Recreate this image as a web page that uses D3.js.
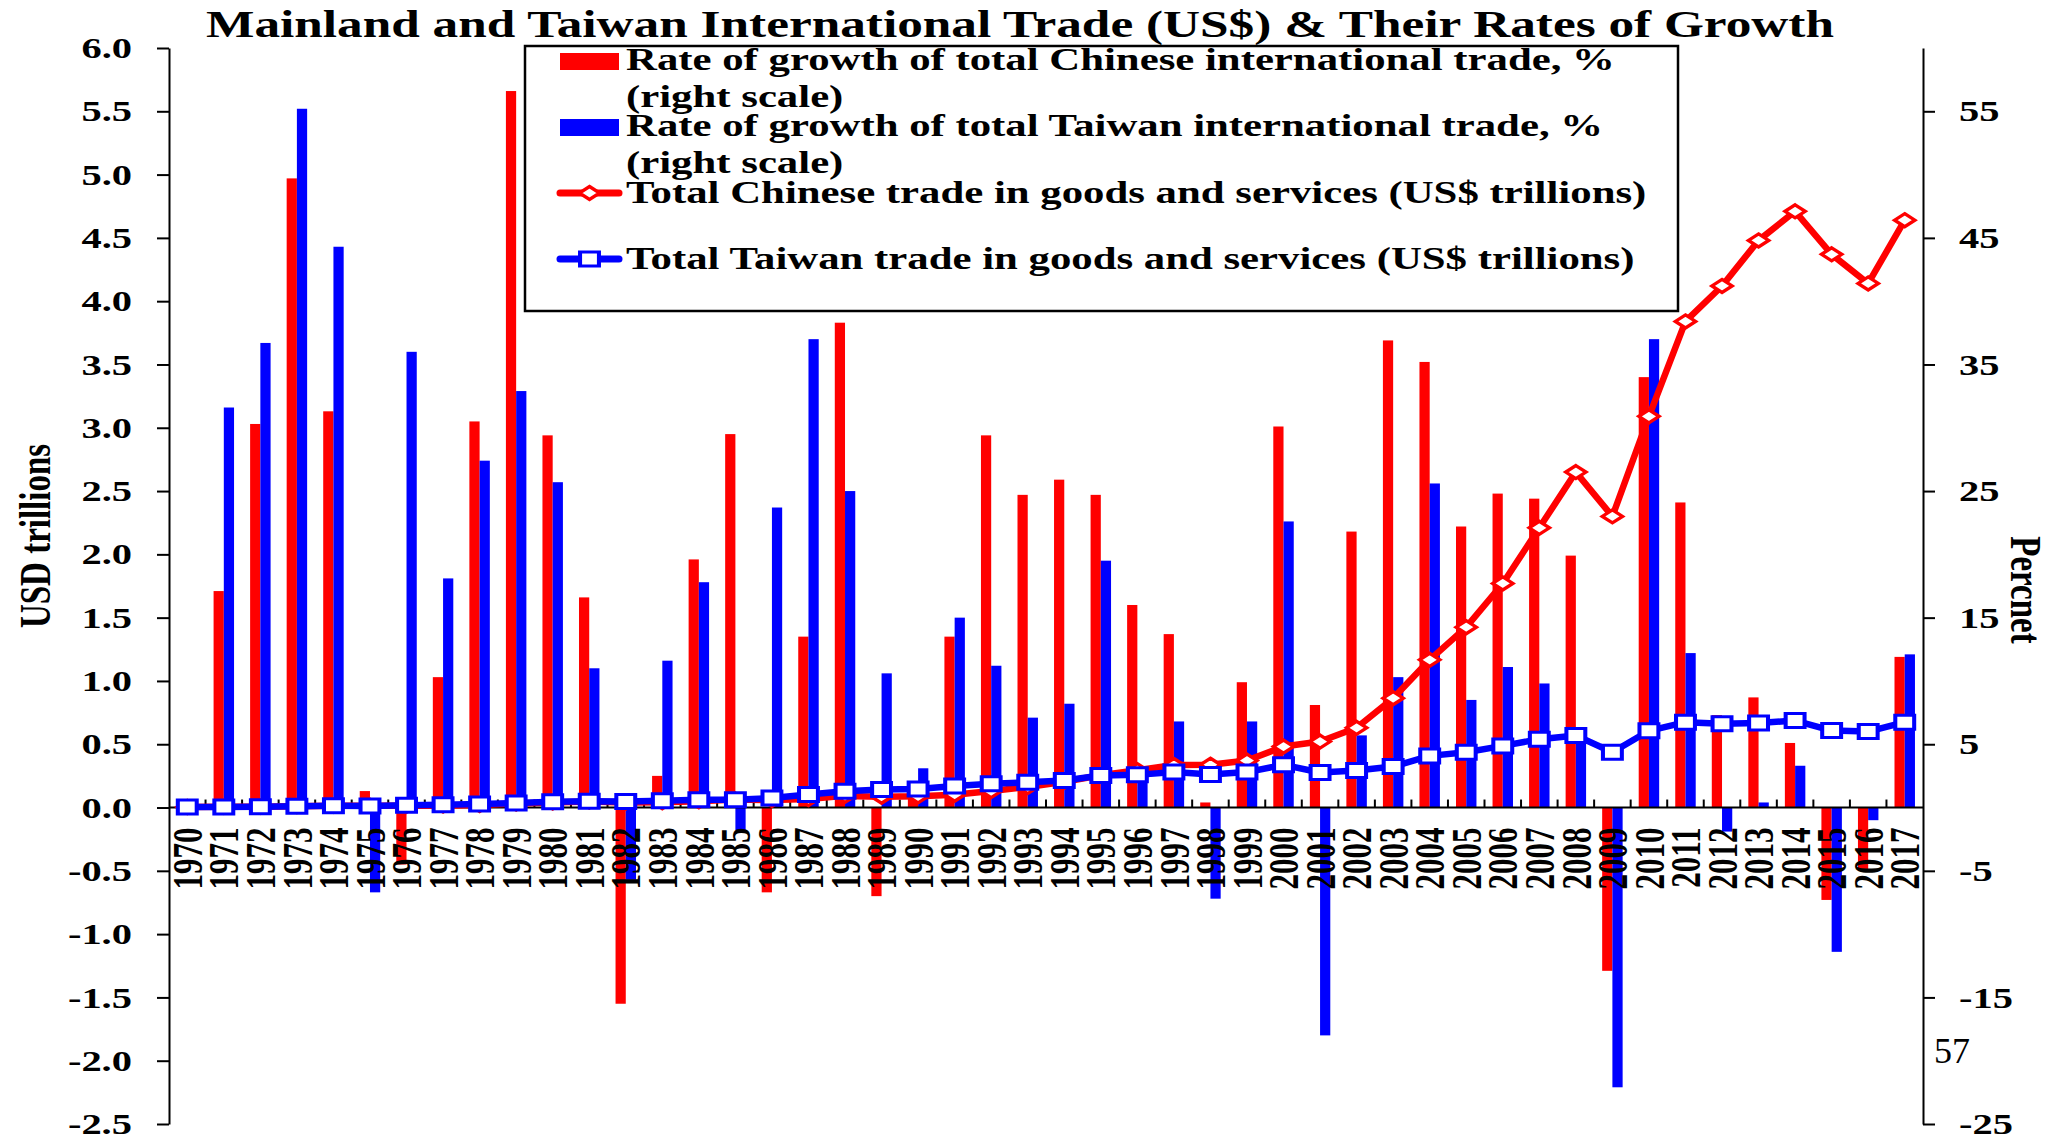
<!DOCTYPE html>
<html>
<head>
<meta charset="utf-8"/>
<script src="https://cdn.jsdelivr.net/npm/d3@7"></script>
<style>
html, body {
  margin: 0;
  padding: 0;
  background: #fff;
}
text {
  font-family: "Liberation Serif", "Times New Roman", serif;
  font-weight: bold;
  fill: #000;
}
.axis path, .axis line {
  stroke: #000;
  stroke-width: 2;
}
</style>
</head>
<body>

<svg id="chart" width="2050" height="1143"></svg>

<script type='text/javascript'>

// ---- data ----
var years = [1970, 1971, 1972, 1973, 1974, 1975, 1976, 1977, 1978, 1979,
             1980, 1981, 1982, 1983, 1984, 1985, 1986, 1987, 1988, 1989,
             1990, 1991, 1992, 1993, 1994, 1995, 1996, 1997, 1998, 1999,
             2000, 2001, 2002, 2003, 2004, 2005, 2006, 2007, 2008, 2009,
             2010, 2011, 2012, 2013, 2014, 2015, 2016, 2017];

// growth rates, % (right scale)
var chinaGrowth = [null, 17.1, 30.3, 49.7, 31.3, 1.3, -4.5, 10.3, 30.5, 56.6,
                   29.4, 16.6, -15.5, 2.5, 19.6, 29.5, -6.7, 13.5, 38.3, -7.0,
                   1.2, 13.5, 29.4, 24.7, 25.9, 24.7, 16.0, 13.7, 0.4, 9.9,
                   30.1, 8.1, 21.8, 36.9, 35.2, 22.2, 24.8, 24.4, 19.9, -12.9,
                   34.0, 24.1, 7.3, 8.7, 5.1, -7.3, -5.0, 11.9];

var taiwanGrowth = [null, 31.6, 36.7, 55.2, 44.3, -6.7, 36.0, 18.1, 27.4, 32.9,
                    25.7, 11.0, -5.7, 11.6, 17.8, -1.8, 23.7, 37.0, 25.0, 10.6,
                    3.1, 15.0, 11.2, 7.1, 8.2, 19.5, 2.5, 6.8, -7.2, 6.8,
                    22.6, -18.0, 5.7, 10.3, 25.6, 8.5, 11.1, 9.8, 5.4, -22.1,
                    37.0, 12.2, -1.9, 0.4, 3.3, -11.4, -1.0, 12.1];

// total trade, US$ trillions (left scale)
var chinaTrade = [0.005, 0.006, 0.007, 0.011, 0.014, 0.015, 0.014, 0.015, 0.020, 0.031,
                  0.040, 0.047, 0.040, 0.041, 0.049, 0.063, 0.059, 0.067, 0.092, 0.086,
                  0.089, 0.101, 0.130, 0.162, 0.204, 0.255, 0.295, 0.336, 0.338, 0.371,
                  0.482, 0.521, 0.630, 0.864, 1.167, 1.425, 1.770, 2.210, 2.650, 2.300,
                  3.090, 3.840, 4.120, 4.480, 4.710, 4.370, 4.140, 4.640];

var taiwanTrade = [0.004, 0.005, 0.006, 0.010, 0.014, 0.013, 0.018, 0.021, 0.027, 0.036,
                   0.045, 0.050, 0.047, 0.053, 0.062, 0.061, 0.075, 0.103, 0.129, 0.143,
                   0.147, 0.170, 0.187, 0.200, 0.213, 0.253, 0.258, 0.280, 0.260, 0.280,
                   0.337, 0.277, 0.292, 0.324, 0.408, 0.437, 0.487, 0.540, 0.569, 0.437,
                   0.606, 0.674, 0.661, 0.667, 0.687, 0.608, 0.600, 0.674];

var leftTicks = [-2.5, -2.0, -1.5, -1.0, -0.5, 0.0, 0.5, 1.0, 1.5, 2.0, 2.5, 3.0, 3.5, 4.0, 4.5, 5.0, 5.5, 6.0];
var rightTicks = [-25, -15, -5, 5, 15, 25, 35, 45, 55];

var legendItems = [
  {lines: ["Rate of growth of total Chinese international trade, %", "(right scale)"], color: "#ff0000", kind: "bar"},
  {lines: ["Rate of growth of total Taiwan international trade, %", "(right scale)"], color: "#0000ff", kind: "bar"},
  {lines: ["Total Chinese trade in goods and services (US$ trillions)"], color: "#ff0000", kind: "diamond"},
  {lines: ["Total Taiwan trade in goods and services (US$ trillions)"], color: "#0000ff", kind: "square"}
];

//---------------------------------------
// the original picture is stretched sideways, so text and markers are too
var sx = 1.35;
var plotLeft = 169, plotRight = 1923, plotTop = 48, plotBottom = 1124;

var svg = d3.select("#chart");

var x = d3.scaleBand().domain(years).range([plotLeft, plotRight]);
var bw = x.bandwidth();
var xs = d3.scaleBand().domain(["cn", "tw"]).range([bw * 0.22, bw * 0.78]);
var yL = d3.scaleLinear().domain([-2.5, 6]).range([plotBottom, plotTop]);
var yR = d3.scaleLinear().domain([-25, 60]).range([plotBottom, plotTop]);
var y0 = yL(0);

//---------------------------------------
// bars
function drawBars(values, key, color) {
  svg.append("g")
    .selectAll("rect")
    .data(years.map(function(yr, i) { return {year: yr, v: values[i]}; })
               .filter(function(d) { return d.v !== null; }))
    .enter().append("rect")
    .attr("x", function(d) { return x(d.year) + xs(key); })
    .attr("width", xs.bandwidth())
    .attr("y", function(d) { return Math.min(yR(d.v), yR(0)); })
    .attr("height", function(d) { return Math.abs(yR(d.v) - yR(0)); })
    .attr("fill", color);
}
drawBars(chinaGrowth, "cn", "#ff0000");
drawBars(taiwanGrowth, "tw", "#0000ff");

//---------------------------------------
// x axis line with category ticks
var xg = svg.append("g").attr("class", "axis");
xg.append("line")
  .attr("x1", plotLeft).attr("x2", plotRight)
  .attr("y1", y0).attr("y2", y0);
xg.selectAll("line.tick")
  .data(years.slice(1))
  .enter().append("line")
  .attr("class", "tick")
  .attr("x1", function(d) { return x(d); })
  .attr("x2", function(d) { return x(d); })
  .attr("y1", y0).attr("y2", y0 - 8);

xg.selectAll("text")
  .data(years)
  .enter().append("text")
  .attr("transform", function(d) {
    return "translate(" + (x(d) + bw / 2) + "," + (y0 + 20) + ") scale(" + sx + ",1) rotate(-90)";
  })
  .attr("text-anchor", "end")
  .attr("dy", "0.35em")
  .style("font-size", "31px")
  .text(function(d) { return d; });

//---------------------------------------
// lines
var markerPaths = {
  diamond: "M0,-6.5L7.5,0L0,6.5L-7.5,0Z",
  square: "M-7,-7L7,-7L7,7L-7,7Z"
};

function drawLine(values, color, kind) {
  var pts = years.map(function(yr, i) { return {year: yr, v: values[i]}; });
  var line = d3.line()
      .x(function(d) { return x(d.year) + bw / 2; })
      .y(function(d) { return yL(d.v); });
  var g = svg.append("g");
  g.append("path")
    .datum(pts)
    .attr("d", line)
    .attr("fill", "none")
    .attr("stroke", color)
    .attr("stroke-width", 6.5)
    .attr("stroke-linejoin", "round");
  g.selectAll("path.marker")
    .data(pts)
    .enter().append("path")
    .attr("class", "marker")
    .attr("d", markerPaths[kind])
    .attr("transform", function(d) {
      return "translate(" + (x(d.year) + bw / 2) + "," + yL(d.v) + ") scale(" + sx + ",1)";
    })
    .attr("fill", "#fff")
    .attr("stroke", color)
    .attr("stroke-width", 3);
}
drawLine(chinaTrade, "#ff0000", "diamond");
drawLine(taiwanTrade, "#0000ff", "square");

//---------------------------------------
// y axes
var gl = svg.append("g")
    .attr("class", "axis")
    .attr("transform", "translate(" + plotLeft + ",0)")
    .call(d3.axisLeft(yL).tickValues(leftTicks).tickSize(12).tickSizeOuter(0)
      .tickFormat(function(d) { return d.toFixed(1); }));

var gr = svg.append("g")
    .attr("class", "axis")
    .attr("transform", "translate(" + plotRight + ",0)")
    .call(d3.axisRight(yR).tickValues(rightTicks).tickSize(12).tickSizeOuter(0)
      .tickFormat(function(d) { return String(d); }));

svg.selectAll(".axis").attr("font-family", null).attr("font-size", null);
gl.selectAll("text")
  .attr("x", 0)
  .attr("transform", "translate(-37,0) scale(" + sx + ",1)")
  .style("font-size", "30px");
gr.selectAll("text")
  .attr("x", 0)
  .attr("transform", "translate(36,0) scale(" + sx + ",1)")
  .style("font-size", "30px");

// axis titles
svg.append("text")
  .attr("transform", "translate(34,536) scale(" + sx + ",1) rotate(-90)")
  .attr("text-anchor", "middle")
  .attr("dy", "0.35em")
  .style("font-size", "33px")
  .text("USD trillions");

svg.append("text")
  .attr("transform", "translate(2027,590) scale(" + sx + ",1) rotate(90)")
  .attr("text-anchor", "middle")
  .attr("dy", "0.35em")
  .style("font-size", "33px")
  .text("Percnet");

// title
svg.append("text")
  .attr("transform", "translate(1020,37) scale(" + sx + ",1)")
  .attr("text-anchor", "middle")
  .style("font-size", "38px")
  .text("Mainland and Taiwan International Trade (US$) & Their Rates of Growth");

// page number
svg.append("text")
  .attr("x", 1934).attr("y", 1063)
  .style("font-size", "36px")
  .style("font-weight", "normal")
  .text("57");

//---------------------------------------
// legend
var lg = svg.append("g");
lg.append("rect")
  .attr("x", 525).attr("y", 46)
  .attr("width", 1153).attr("height", 265)
  .attr("fill", "#fff")
  .attr("stroke", "#000")
  .attr("stroke-width", 2.5);

var legendBase = [70, 136, 203, 269];
legendItems.forEach(function(item, i) {
  var base = legendBase[i];
  if (item.kind === "bar") {
    lg.append("rect")
      .attr("x", 560).attr("y", base - 17)
      .attr("width", 59).attr("height", 17)
      .attr("fill", item.color);
  } else {
    var cy = base - 10;
    lg.append("line")
      .attr("x1", 560).attr("x2", 619)
      .attr("y1", cy).attr("y2", cy)
      .attr("stroke", item.color)
      .attr("stroke-width", 7)
      .attr("stroke-linecap", "round");
    lg.append("path")
      .attr("d", markerPaths[item.kind])
      .attr("transform", "translate(589.5," + cy + ") scale(" + sx + ",1)")
      .attr("fill", "#fff")
      .attr("stroke", item.color)
      .attr("stroke-width", 3);
  }
  item.lines.forEach(function(t, j) {
    lg.append("text")
      .attr("transform", "translate(626," + (base + j * 37) + ") scale(" + sx + ",1)")
      .style("font-size", "31.7px")
      .text(t);
  });
});

</script>
</body>
</html>
